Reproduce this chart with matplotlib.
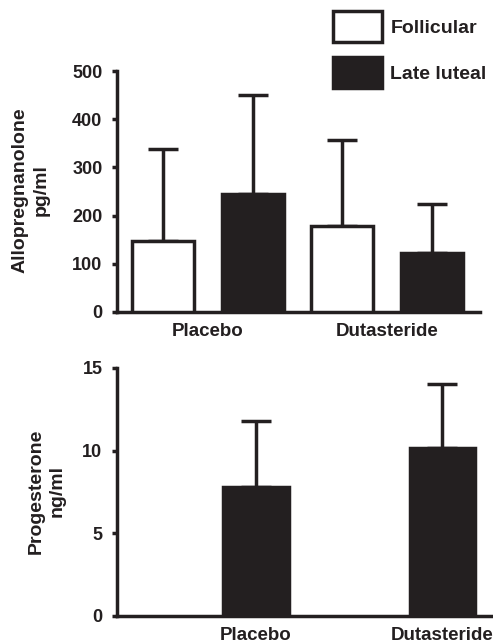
import matplotlib
matplotlib.use('Agg')
import matplotlib.pyplot as plt
import numpy as np

plt.rcParams['font.family'] = ['Liberation Sans', 'DejaVu Sans']
plt.rcParams['font.weight'] = 'bold'

# data
groups = ['Placebo', 'Dutasteride']
phases = ['Follicular', 'Late luteal']
allo_mean = {'Follicular': [147, 178], 'Late luteal': [245, 122]}
allo_err = {'Follicular': [191, 179], 'Late luteal': [205, 103]}
allo_ticks = [0, 100, 200, 300, 400, 500]

prog_mean = [7.8, 10.15]
prog_err = [4.0, 3.9]
prog_ticks = [0, 5, 10, 15]

INK = '#231f20'
LW = 2.5

W, H = 493, 644
fig = plt.figure(figsize=(W / 100, H / 100), dpi=100)


def px_axes(left, right, top, bottom):
    return fig.add_axes([left / W, 1 - bottom / H, (right - left) / W, (bottom - top) / H])


def style(ax):
    for side in ['top', 'right']:
        ax.spines[side].set_visible(False)
    for side in ['left', 'bottom']:
        ax.spines[side].set_linewidth(LW)
        ax.spines[side].set_color(INK)
    ax.tick_params(axis='y', length=3.5, width=LW, color=INK, labelsize=13, pad=7, labelcolor=INK)
    ax.tick_params(axis='x', length=0, labelsize=13.5, pad=8, labelcolor=INK)


# top panel: allopregnanolone
ax1 = px_axes(117, 480, 71, 312)
gx = np.arange(len(groups)) * 2.0
offsets = {'Follicular': -0.5, 'Late luteal': 0.5}
faces = {'Follicular': 'white', 'Late luteal': INK}
handles = []
for ph in phases:
    xs = gx + offsets[ph]
    b = ax1.bar(xs, allo_mean[ph], width=0.69, color=faces[ph], edgecolor=INK,
                linewidth=LW, zorder=3, label=ph)
    ax1.errorbar(xs, allo_mean[ph], yerr=[np.zeros(len(xs)), allo_err[ph]], fmt='none',
                 ecolor=INK, elinewidth=LW, capsize=11, capthick=LW, zorder=2)
    handles.append(b)
ax1.set_xlim(-1.013, 3.035)
ax1.set_ylim(0, 500)
ax1.set_yticks(allo_ticks)
ax1.set_xticks(gx)
ax1.set_xticklabels(groups)
style(ax1)
fig.text(31 / W, 1 - 190 / H, 'Allopregnanolone\npg/ml', rotation=90, ha='center', va='center',
         fontsize=14, fontweight='bold', color=INK, linespacing=1.32)

fig.legend(handles, phases, loc='upper left', bbox_to_anchor=(333 / W, 1 - 11 / H),
           frameon=False, fontsize=14, handlelength=2.5, handleheight=2.1,
           handletextpad=0.45, labelspacing=0.75, borderpad=0, borderaxespad=0,
           labelcolor=INK)

# bottom panel: progesterone
ax2 = px_axes(117, 496, 368, 616)
px = np.array([1.0, 3.0])
ax2.bar(px, prog_mean, width=0.7, color=INK, edgecolor=INK, linewidth=LW, zorder=3)
ax2.errorbar(px, prog_mean, yerr=[np.zeros(len(px)), prog_err], fmt='none',
             ecolor=INK, elinewidth=LW, capsize=11, capthick=LW, zorder=2)
ax2.set_xlim(-0.495, 3.58)
ax2.set_ylim(0, 15)
ax2.set_yticks(prog_ticks)
ax2.set_xticks(px)
ax2.set_xticklabels(groups)
style(ax2)
fig.text(47 / W, 1 - 491 / H, 'Progesterone\nng/ml', rotation=90, ha='center', va='center',
         fontsize=14, fontweight='bold', color=INK, linespacing=1.32)

fig.savefig('out.png', dpi=100)
